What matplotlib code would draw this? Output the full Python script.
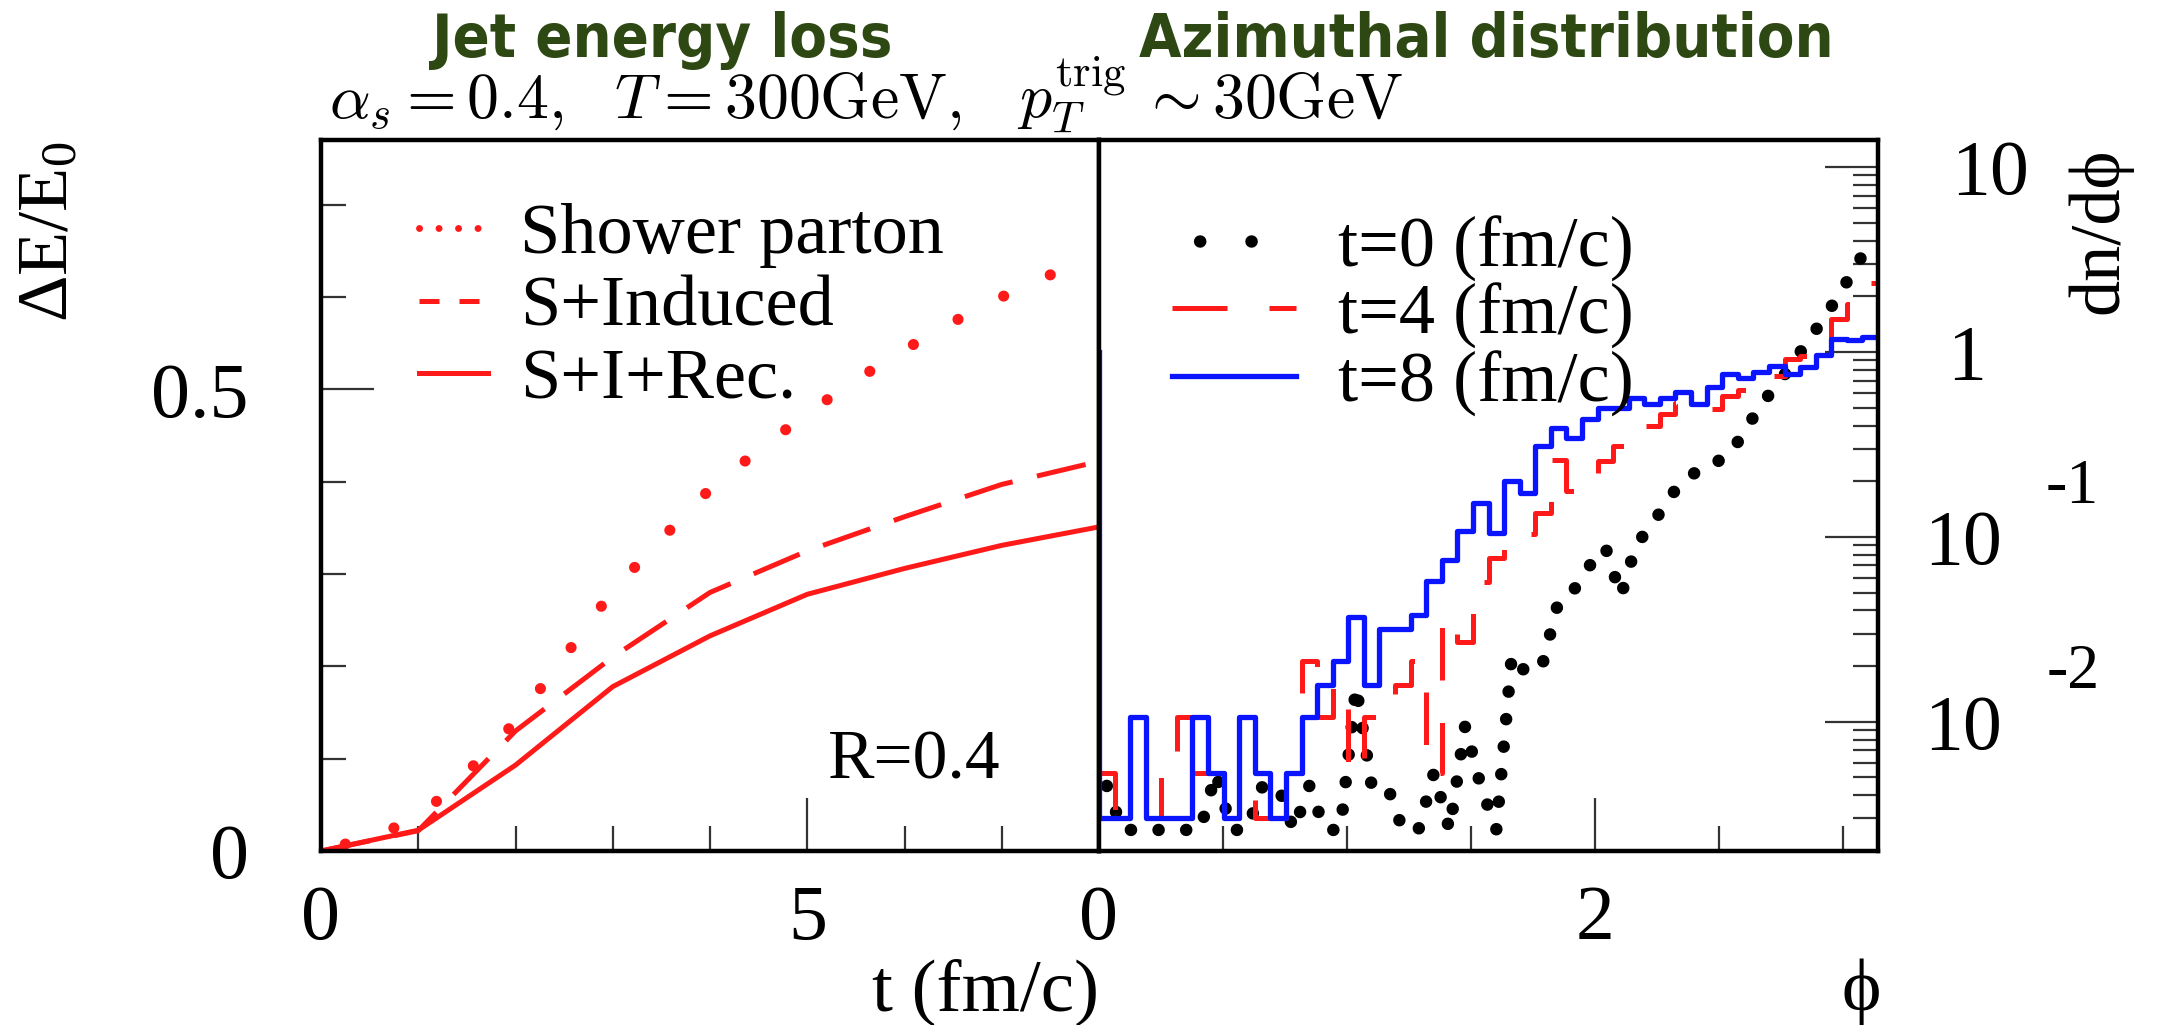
"""Jet energy loss and azimuthal distribution, two-panel figure"""

import numpy as np
import matplotlib.pyplot as plt
from matplotlib.lines import Line2D

plt.rcParams["font.family"] = ["Liberation Serif", "DejaVu Serif"]
plt.rcParams["mathtext.fontset"] = "custom"
plt.rcParams["mathtext.rm"] = "Liberation Serif"
plt.rcParams["mathtext.it"] = "Liberation Serif:italic"

# ---- left panel: energy loss vs time ----
t_shower = [0, 0.5, 1, 1.5, 2, 2.5, 3, 3.5, 4, 4.5, 5, 5.5, 6, 6.5, 7, 7.5,
            7.62]
shower = [0, 0.015, 0.035, 0.085, 0.14, 0.21, 0.282, 0.338, 0.392, 0.434,
          0.474, 0.510, 0.543, 0.573, 0.600, 0.624, 0.629]
t_grid = [0, 1, 2, 3, 4, 5, 6, 7, 8]
induced = [0, 0.022, 0.13, 0.21, 0.28, 0.325, 0.362, 0.397, 0.422]
recoil = [0, 0.0225, 0.093, 0.178, 0.233, 0.278, 0.306, 0.331, 0.351]

# ---- right panel: dn/dphi, 50 bins on [0, pi] ----
n_bins = 50
t8_spike = 1.0   # value drawn at phi = 0
t8 = [0, 0, 0.0106, 0, 0, 0, 0.0106, 0.0053, 0, 0.0106,
      0.0053, 0, 0.0053, 0.0106, 0.0159, 0.0212, 0.037, 0.0159, 0.0318, 0.0318,
      0.038, 0.058, 0.075, 0.107, 0.153, 0.105, 0.201, 0.172, 0.31, 0.387,
      0.344, 0.436, 0.50, 0.50, 0.566, 0.52, 0.566, 0.61, 0.52, 0.645,
      0.76, 0.72, 0.78, 0.84, 0.76, 0.83, 0.965, 1.18, 1.16, 1.21]
t4 = [0.0053, 0, 0, 0, 0.0053, 0.0106, 0.0053, 0.0053, 0, 0.0053,
      0, 0, 0.0053, 0.0212, 0.0106, 0.0159, 0.0053, 0.0106, 0.0106, 0.0159,
      0.0212, 0.0053, 0.037, 0.027, 0.057, 0.077, 0.09, 0.103, 0.134, 0.26,
      0.177, 0.22, 0.257, 0.31, 0.35, 0.40, 0.46, 0.53, 0.52, 0.49,
      0.58, 0.62, 0.68, 0.74, 0.92, 0.95, 1.05, 1.50, 1.81, 2.35]
t0 = [0.0045, 0, 0, 0, 0, 0, 0, 0.0053, 0, 0,
      0.0045, 0.0045, 0, 0.0045, 0, 0, 0.0155, 0.0045, 0.0045, 0,
      0, 0.0053, 0, 0.0095, 0.0045, 0, 0.023, 0.018, 0.021, 0.045,
      0.052, 0.07, 0.088, 0.048, 0.092, 0.115, 0.16, 0.2, 0.23, 0.25,
      0.28, 0.38, 0.52, 0.66, 0.86, 1.15, 1.5, 2.05, 2.8, 4.0]

red = "#ff1a1a"
blue = "#0a14ff"
green = "#2d4813"

W, H = 2162, 1025
fig = plt.figure(figsize=(W / 100, H / 100), dpi=100)
axL = fig.add_axes([321 / W, 1 - 851 / H, 778 / W, 711 / H])
axR = fig.add_axes([1099 / W, 1 - 851 / H, 779 / W, 711 / H])

# left panel curves
axL.plot(t_shower, shower, color=red, lw=8, ls=(2.34, (0.01, 4.6)),
         dash_capstyle="round")
axL.plot(t_grid, induced, color=red, lw=3.6, ls=(0, (10, 5)))
axL.plot(t_grid, recoil, color=red, lw=3.6)

axL.set_xlim(0, 8)
axL.set_ylim(0, 0.77)
axL.set_xticks([0, 5])
axL.set_xticks(np.arange(0, 9), minor=True)
axL.set_yticks([0, 0.5])
axL.set_yticklabels(["0", "0.5"])
axL.set_yticks(np.arange(0, 0.8, 0.1), minor=True)
axL.tick_params(which="both", direction="in", top=False, right=False,
                width=1.6, color="#333333", labelsize=56)
axL.tick_params(which="major", length=38)
axL.tick_params(which="minor", length=18)
axL.tick_params(axis="y", pad=52)
axL.tick_params(axis="x", pad=24)

leg_handles = [
    Line2D([], [], color=red, lw=5, ls=(0, (0.01, 2.8)), dash_capstyle="round"),
    Line2D([], [], color=red, lw=3.6, ls=(0, (4, 4))),
    Line2D([], [], color=red, lw=3.6),
]
axL.legend(leg_handles, ["Shower parton", "S+Induced", "S+I+Rec."],
           loc="upper left", bbox_to_anchor=(0.126, 0.912), frameon=False,
           fontsize=52, handlelength=0.95, handletextpad=0.45,
           labelspacing=0.1, borderpad=0, borderaxespad=0)
axL.text(0.763, 0.125, "R=0.4", transform=axL.transAxes, ha="center",
         va="center", fontsize=50)

# right panel histograms
edges = np.linspace(0, np.pi, n_bins + 1)
centers = 0.5 * (edges[:-1] + edges[1:])
floor = 0.003


def step_xy(vals):
    v = np.where(np.asarray(vals) > 0, vals, floor)
    return np.repeat(edges, 2)[1:-1], np.repeat(v, 2)


x0 = np.asarray(t0)
axR.plot(centers, np.where(x0 > 0, x0, 0.0026), color="black", lw=9,
         ls=(0, (0.01, 2.2)), dash_capstyle="round", clip_on=False)
xs, ys = step_xy(t4)
axR.plot(xs, ys, color=red, lw=3.6, ls=(0, (10.5, 8.5)))
xs, ys = step_xy(t8)
axR.plot(np.r_[0, xs], np.r_[t8_spike, ys], color=blue, lw=3.8)

axR.set_yscale("log")
axR.set_xlim(0, np.pi)
axR.set_ylim(0.003, 14)
axR.set_xticks([0, 2])
axR.set_xticks([0.5, 1, 1.5, 2.5, 3], minor=True)
axR.yaxis.tick_right()
axR.set_yticks([0.01, 0.1, 1, 10])
axR.set_yticks([m * d for d in (0.001, 0.01, 0.1, 1) for m in range(2, 10)],
               minor=True)
axR.set_yticklabels([])
axR.set_yticklabels([], minor=True)
axR.tick_params(which="both", direction="in", top=False, left=False,
                width=1.6, color="#333333", labelsize=56)
axR.tick_params(which="major", length=38)
axR.tick_params(which="minor", length=18)
axR.tick_params(axis="x", pad=24)

# log tick labels in the xmgrace style
decades = [10, 1, 0.1, 0.01]
dec_text = ["10", "1", "10", "10"]
dec_x = [1.144, 1.114, 1.109, 1.109]
dec_exp = ["", "", "-1", "-2"]
for d, s, xp, e in zip(decades, dec_text, dec_x, dec_exp):
    axR.annotate(s, xy=(xp, d), xycoords=("axes fraction", "data"),
                 ha="center", va="center_baseline", fontsize=56,
                 annotation_clip=False)
    if e:
        axR.annotate(e, xy=(xp + 0.141, d), xycoords=("axes fraction", "data"),
                     xytext=(0, 40), textcoords="offset points",
                     ha="center", va="center_baseline", fontsize=46,
                     annotation_clip=False)

r_handles = [
    Line2D([], [], color="black", lw=9, ls=(1.9, (0.01, 4.1)),
           dash_capstyle="round"),
    Line2D([], [], color=red, lw=3.6, ls=(0, (11, 8.4))),
    Line2D([], [], color=blue, lw=3.8),
]
axR.legend(r_handles, ["t=0 (fm/c)", "t=4 (fm/c)", "t=8 (fm/c)"],
           loc="upper left", bbox_to_anchor=(0.094, 0.894), frameon=False,
           fontsize=52, handlelength=1.72, handletextpad=0.57,
           labelspacing=0.02, borderpad=0, borderaxespad=0)

for ax in (axL, axR):
    for sp in ax.spines.values():
        sp.set_linewidth(3.2)

# labels and titles
fig.text(50 / W, 1 - 141 / H, "ΔE/E$_0$", rotation=90, ha="center",
         va="top", fontsize=52)
fig.text(2100 / W, 1 - 147 / H, "dn/dϕ", rotation=90, ha="center",
         va="top", fontsize=52)
fig.text(986 / W, 1 - 992 / H, "t (fm/c)", ha="center", va="center",
         fontsize=54)
fig.text(1861 / W, 1 - 992 / H, "ϕ", ha="center", va="center", fontsize=54)

fig.text(662 / W, 1 - 57 / H, "Jet energy loss", ha="center", va="baseline",
         fontsize=44, weight="bold", family="DejaVu Sans",
         stretch="condensed", color=green)
fig.text(1486 / W, 1 - 57 / H, "Azimuthal distribution", ha="center",
         va="baseline", fontsize=44, weight="bold", family="DejaVu Sans",
         stretch="condensed", color=green)

# parameter line, written in three pieces placed one after the other
base_y = H - 118
sub1 = fig.text(329 / W, base_y / H,
                r"$\alpha_s = 0.4,\ \ T = 300\mathrm{GeV},$",
                ha="left", va="baseline", fontsize=46, math_fontfamily="cm")
sub2 = axL.annotate(r"$p_T^{\mathrm{trig}}$", xy=(1, base_y),
                    xycoords=(sub1, "figure pixels"), xytext=(40, 0),
                    textcoords="offset points", ha="left", va="baseline",
                    fontsize=46, math_fontfamily="cm", annotation_clip=False)
axL.annotate(r"$\sim 30\mathrm{GeV}$", xy=(1, base_y),
             xycoords=(sub2, "figure pixels"), xytext=(10, 0),
             textcoords="offset points", ha="left", va="baseline",
             fontsize=46, math_fontfamily="cm", annotation_clip=False)

fig.savefig("out.png", dpi=100)
